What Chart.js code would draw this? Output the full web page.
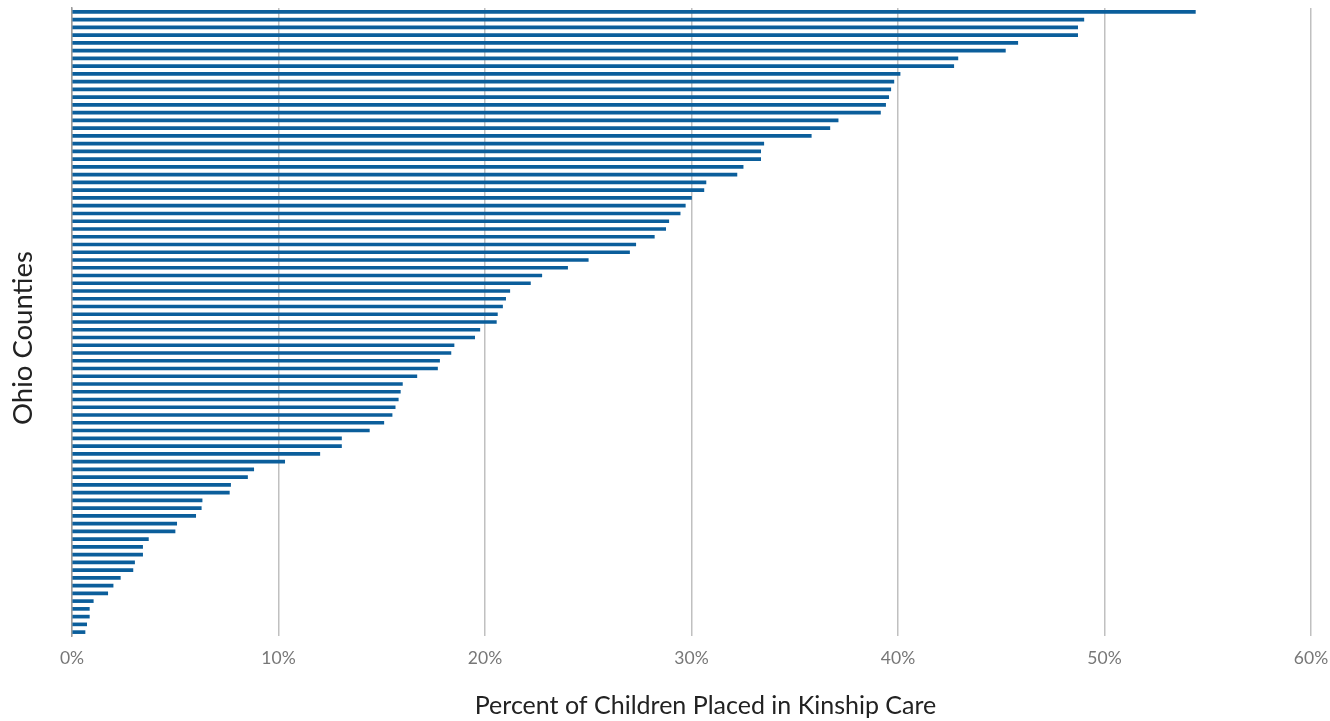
<!DOCTYPE html>
<html>
<head>
<meta charset="utf-8">
<script src="https://cdn.jsdelivr.net/npm/chart.js@4.4.1/dist/chart.umd.min.js"></script>
<style>
    html, body { margin: 0; padding: 0; background: #fff; }
    #chart { display: block; }
</style>
</head>
<body>
<canvas id="chart" width="1330" height="721"></canvas>
<script>
// percent of children placed in kinship care, one bar per county, sorted high to low
const kinshipPct = [
    54.4, 49.0, 48.7, 48.7, 45.8, 45.2, 42.9, 42.7, 40.1, 39.8,
    39.65, 39.55, 39.4, 39.15, 37.1, 36.7, 35.8, 33.5, 33.35, 33.35,
    32.5, 32.2, 30.7, 30.6, 30.0, 29.7, 29.45, 28.9, 28.75, 28.2,
    27.3, 27.0, 25.0, 24.0, 22.75, 22.2, 21.2, 21.0, 20.85, 20.6,
    20.55, 19.75, 19.5, 18.5, 18.35, 17.8, 17.7, 16.7, 16.0, 15.9,
    15.8, 15.65, 15.5, 15.1, 14.4, 13.05, 13.05, 12.0, 10.3, 8.8,
    8.5, 7.68, 7.62, 6.3, 6.26, 5.99, 5.07, 4.99, 3.7, 3.42,
    3.42, 3.03, 2.95, 2.34, 1.99, 1.73, 1.03, 0.84, 0.84, 0.71,
    0.63
];
// county names are not shown on the chart, only their rank
const counties = kinshipPct.map((_, i) => "County " + (i + 1));
const xTicks = [0, 10, 20, 30, 40, 50, 60];

const xTitle = "Percent of Children Placed in Kinship Care";
const yTitle = "Ohio Counties";

const FONT = "Lato, 'Open Sans', sans-serif";

// axis titles sit a bit off-centre in the original, so draw them ourselves
const axisTitles = {
    id: "axisTitles",
    afterDraw(chart) {
        const { ctx, chartArea } = chart;
        ctx.save();
        ctx.fillStyle = "#222";
        ctx.textAlign = "center";
        ctx.textBaseline = "middle";

        ctx.font = "25px " + FONT;
        ctx.fillText(xTitle, (chartArea.left + chartArea.right) / 2 + 14, 706);

        ctx.translate(23, (chartArea.top + chartArea.bottom) / 2 + 16);
        ctx.rotate(-Math.PI / 2);
        ctx.font = "27.5px " + FONT;
        ctx.fillText(yTitle, 0, 0);
        ctx.restore();
    },
};

new Chart(document.getElementById("chart"), {
    type: "bar",
    data: {
        labels: counties,
        datasets: [{
            data: kinshipPct,
            backgroundColor: "#0b5e9b",
            barThickness: 3,
        }],
    },
    plugins: [axisTitles],
    options: {
        indexAxis: "y",
        responsive: false,
        animation: false,
        layout: { padding: { top: 8, right: 19, left: 0, bottom: 0 } },
        plugins: {
            legend: { display: false },
            tooltip: { enabled: false },
        },
        scales: {
            x: {
                min: xTicks[0],
                max: xTicks[xTicks.length - 1],
                afterBuildTicks: scale => { scale.ticks = xTicks.map(v => ({ value: v })); },
                afterFit: scale => {
                    scale.height = 85;
                    scale.paddingLeft = 0;
                    scale.paddingRight = 0;
                },
                grid: { color: "#c0c0c0", lineWidth: 1.5, drawTicks: false },
                border: { display: false },
                ticks: {
                    padding: 12,
                    color: "#777",
                    font: { family: FONT, size: 17.5 },
                    callback: v => v + "%",
                },
            },
            y: {
                afterFit: scale => { scale.width = 72; },
                grid: { display: false, drawTicks: false },
                border: { display: true, color: "#9a9a9a", width: 1.5 },
                ticks: { display: false },
            },
        },
    },
});
</script>
</body>
</html>
